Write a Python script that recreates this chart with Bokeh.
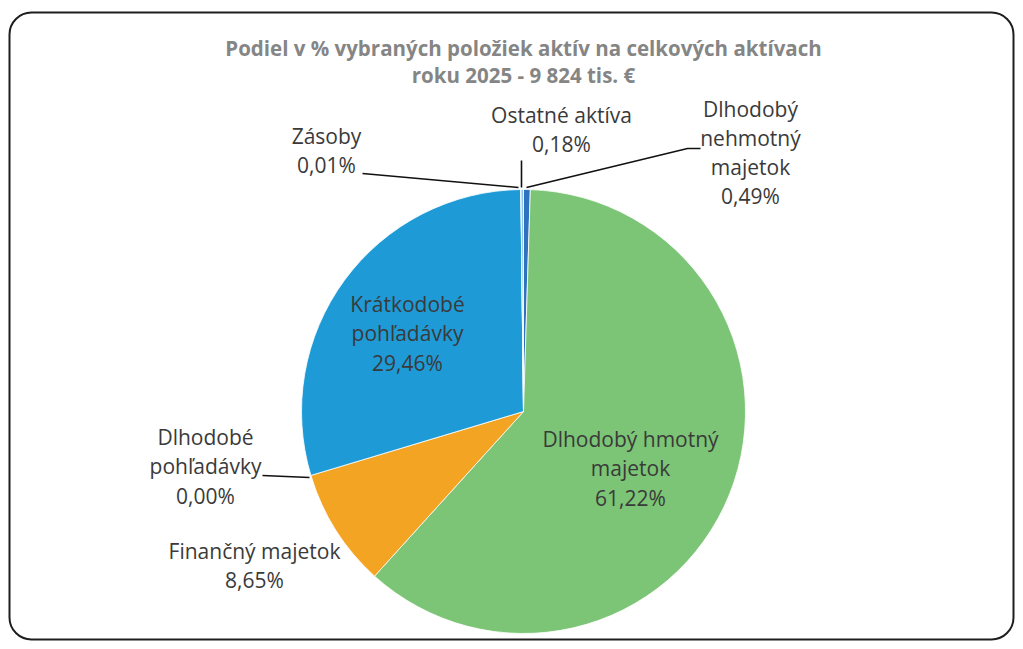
import math
from bokeh.plotting import figure
from bokeh.models import ColumnDataSource, Range1d, BoxAnnotation
from bokeh.core.properties import value
from bokeh.embed import file_html
from bokeh.resources import INLINE

# ---- data (clockwise from 12 o'clock) ----
categories = ["Dlhodobý nehmotný majetok", "Dlhodobý hmotný majetok", "Finančný majetok",
              "Dlhodobé pohľadávky", "Krátkodobé pohľadávky", "Zásoby", "Ostatné aktíva"]
shares = [0.49, 61.22, 8.65, 0.00, 29.46, 0.01, 0.18]
share_labels = ["0,49%", "61,22%", "8,65%", "0,00%", "29,46%", "0,01%", "0,18%"]
colors = ["#2f72c0", "#7cc576", "#f4a423", "#9a9a9a", "#1e9bd7", "#8ec6ec", "#8ec6ec"]
title_lines = ["Podiel v % vybraných položiek aktív na celkových aktívach", "roku 2025 - 9 824 tis. €"]

W, H = 1015, 641
def sy(screen_y):  # page pixel row -> data y
    return H - screen_y
def sx(screen_x):
    return screen_x

p = figure(width=W, height=H, output_backend="svg", toolbar_location=None,
           x_range=Range1d(0, W), y_range=Range1d(0, H), min_border=0)
p.axis.visible = False
p.grid.visible = False
p.outline_line_color = None
p.background_fill_color = "white"
p.border_fill_color = "white"

# frame
p.add_layout(BoxAnnotation(left=sx(9), right=sx(1013), top=sy(12), bottom=sy(639),
                           fill_alpha=0, line_color="#1e1e1e", line_alpha=1.0, line_width=2,
                           border_radius=22))

# pie (zero-sized slices are not drawn)
total = sum(shares)
start, ends, starts = 0.0, [], []
for v in shares:
    starts.append(start)
    start += v / total
    ends.append(start)
keep = [i for i, v in enumerate(shares) if v > 0]
cx, cy, r = sx(523), sy(411), 222
src = ColumnDataSource(dict(
    start=[math.pi / 2 - 2 * math.pi * ends[i] for i in keep],
    end=[math.pi / 2 - 2 * math.pi * starts[i] for i in keep],
    color=[colors[i] for i in keep]))
p.wedge(x=cx, y=cy, radius=r, start_angle="start", end_angle="end",
        fill_color="color", line_color="white", line_width=0.8, source=src)

# leader lines
lc = "#111111"
p.line([sx(362), sx(518)], [sy(173), sy(187)], line_color=lc, line_width=1.6)
p.line([sx(521), sx(521)], [sy(160), sy(187)], line_color=lc, line_width=1.6)
p.line([sx(526), sx(687), sx(700)], [sy(187), sy(148), sy(148)], line_color=lc, line_width=1.6)
p.line([sx(262), sx(309)], [sy(475), sy(477)], line_color=lc, line_width=1.6)

font = value("Open Sans")
tc = "#3a3a3a"
def lbl(x, y, txt, size="21px"):
    p.text(x=[sx(x)], y=[sy(y)], text=[txt], text_font=font, text_font_size=size,
           text_color=tc, text_align="center", text_baseline="middle", text_line_height=1.04)

lbl(326, 150, "Zásoby\n" + share_labels[5])
lbl(561, 129, "Ostatné aktíva\n" + share_labels[6])
lbl(750, 152, "Dlhodobý\nnehmotný\nmajetok\n" + share_labels[0])
lbl(407, 333, "Krátkodobé\npohľadávky\n" + share_labels[4])
lbl(630, 468, "Dlhodobý hmotný\nmajetok\n" + share_labels[1])
lbl(205, 466, "Dlhodobé\npohľadávky\n" + share_labels[3])
lbl(254, 565, "Finančný majetok\n" + share_labels[2])

# title
for i, t in enumerate(title_lines):
    p.text(x=[sx(523)], y=[sy(47 + 27 * i)], text=[t], text_font=font, text_font_size="20.5px",
           text_font_style="bold", text_color="#858585", text_align="center", text_baseline="middle")

open("out.html", "w").write(file_html(p, INLINE))
